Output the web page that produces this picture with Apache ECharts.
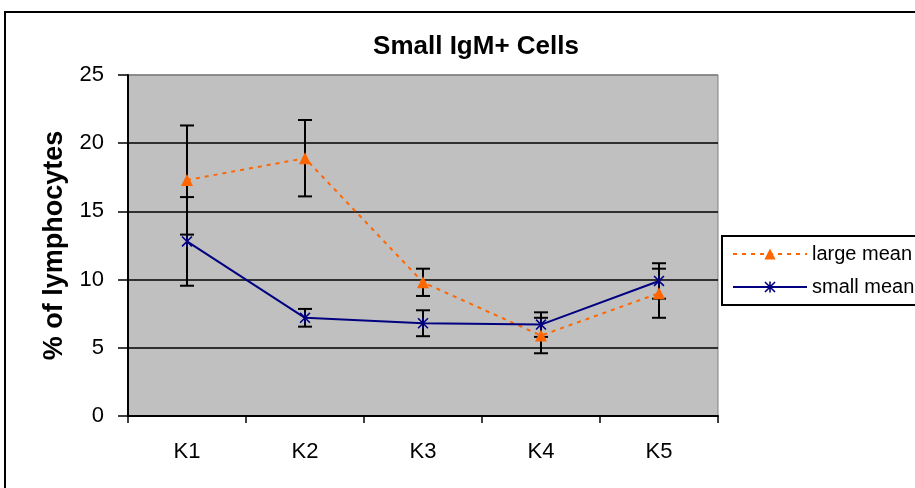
<!DOCTYPE html>
<html>
<head>
<meta charset="utf-8">
<script src="https://cdn.jsdelivr.net/npm/echarts@6/dist/echarts.min.js"></script>
<style>
    html, body { margin: 0; padding: 0; background: #fff; }
    #chart { width: 915px; height: 488px; }
</style>
</head>
<body>
<div id="chart"></div>
<script>
    // data
    var categories = ['K1', 'K2', 'K3', 'K4', 'K5'];
    var largeMean = [17.3, 18.9, 9.8, 5.9, 9.0];
    var largeErr = [4.0, 2.8, 1.0, 1.3, 1.8];
    var smallMean = [12.8, 7.2, 6.8, 6.7, 9.9];
    var smallErr = [3.25, 0.65, 0.95, 0.9, 1.3];

    var font = 'Liberation Sans, Arial, sans-serif';

    function errData(mean, err) {
        return mean.map(function (m, i) { return [i, m - err[i], m + err[i]]; });
    }

    function renderErr(params, api) {
        var x = api.value(0);
        var lo = api.coord([x, api.value(1)]);
        var hi = api.coord([x, api.value(2)]);
        var w = 7;
        var style = { stroke: '#000', lineWidth: 2 };
        return {
            type: 'group',
            children: [
                { type: 'line', shape: { x1: lo[0], y1: lo[1], x2: hi[0], y2: hi[1] }, style: style },
                { type: 'line', shape: { x1: lo[0] - w, y1: lo[1], x2: lo[0] + w, y2: lo[1] }, style: style },
                { type: 'line', shape: { x1: hi[0] - w, y1: hi[1], x2: hi[0] + w, y2: hi[1] }, style: style }
            ]
        };
    }

    var asterisk = 'path://M4.3,0L5.7,0L5.7,10L4.3,10Z M0,1L1,0L10,9L9,10Z M9,0L10,1L1,10L0,9Z';

    var chart = echarts.init(document.getElementById('chart'));
    chart.setOption({
        animation: false,
        backgroundColor: '#fff',
        graphic: [{
            type: 'rect',
            shape: { x: 5, y: 12, width: 1000, height: 1000 },
            style: { fill: 'none', stroke: '#000', lineWidth: 2 },
            z: 0
        }],
        title: {
            text: 'Small IgM+ Cells',
            left: 471,
            textAlign: 'center',
            top: 29,
            textStyle: { fontFamily: font, fontSize: 26, fontWeight: 'bold', color: '#000' }
        },
        legend: {
            orient: 'vertical',
            left: 722,
            top: 236,
            padding: [8, 30, 8, 10],
            itemGap: 13,
            itemWidth: 74,
            itemHeight: 14,
            borderColor: '#000',
            borderWidth: 2,
            textStyle: { fontFamily: font, fontSize: 20, color: '#000' },
            data: ['large mean', 'small mean']
        },
        grid: {
            left: 128,
            right: 197,
            top: 75,
            bottom: 72,
            show: true,
            backgroundColor: '#c0c0c0',
            borderColor: '#808080',
            borderWidth: 1
        },
        xAxis: {
            type: 'category',
            data: categories,
            axisLine: { lineStyle: { color: '#000', width: 2 } },
            axisTick: { show: true, length: 7, lineStyle: { color: '#000', width: 1.5 } },
            axisLabel: { margin: 25, fontFamily: font, fontSize: 22, color: '#000' }
        },
        yAxis: {
            type: 'value',
            min: 0,
            max: 25,
            interval: 5,
            name: '% of lymphocytes',
            nameLocation: 'middle',
            nameGap: 60,
            nameTextStyle: { fontFamily: font, fontSize: 27, fontWeight: 'bold', color: '#000' },
            axisLine: { show: true, lineStyle: { color: '#000', width: 2 } },
            axisTick: { show: true, length: 10, lineStyle: { color: '#000', width: 1.5 } },
            axisLabel: { margin: 24, fontFamily: font, fontSize: 22, color: '#000' },
            splitLine: {
                lineStyle: {
                    color: ['#000', '#000', '#000', '#000', '#000', '#808080'],
                    width: 1.5
                }
            }
        },
        series: [
            {
                name: 'err large',
                type: 'custom',
                renderItem: renderErr,
                data: errData(largeMean, largeErr),
                z: 2
            },
            {
                name: 'err small',
                type: 'custom',
                renderItem: renderErr,
                data: errData(smallMean, smallErr),
                z: 2
            },
            {
                name: 'large mean',
                type: 'line',
                data: largeMean,
                symbol: 'triangle',
                symbolSize: 12,
                itemStyle: { color: '#ff6600' },
                lineStyle: { color: '#ff6600', width: 2, type: [4, 5] },
                z: 3
            },
            {
                name: 'small mean',
                type: 'line',
                data: smallMean,
                symbol: asterisk,
                symbolSize: 11,
                itemStyle: { color: '#000080' },
                lineStyle: { color: '#000080', width: 2 },
                z: 3
            }
        ]
    });
</script>
</body>
</html>
